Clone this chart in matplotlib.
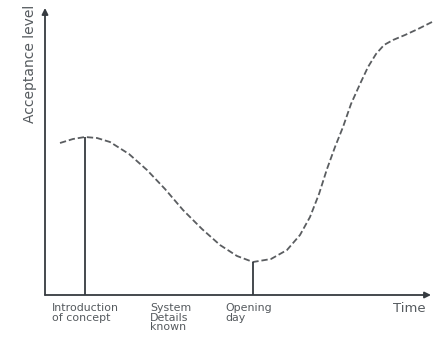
import matplotlib

matplotlib.use("Agg")
import matplotlib.pyplot as plt

# acceptance curve (time, acceptance level; arbitrary units)
time = [15, 28, 40, 52, 65, 84, 102, 120, 138, 157, 175, 192, 208, 226, 242,
        255, 265, 274, 282, 290, 298, 306, 315, 323, 331, 339, 348, 360, 373, 387]
accept = [152, 156, 158, 157, 153, 141, 125, 106, 85, 66, 50, 39, 33, 36, 45,
          60, 78, 101, 126, 148, 168, 191, 211, 228, 241, 250, 255, 260, 266, 273]

markers_t = [40, 208]          # vertical guides: introduction, opening day
markers_a = [158, 33]
tick_pos = [7, 105, 180]
tick_text = ["Introduction\nof concept", "System\nDetails\nknown", "Opening\nday"]

AXIS = "#363b40"
TEXT = "#555a5e"

fig = plt.figure(figsize=(4.34, 3.39), dpi=100)
ax = fig.add_axes([45 / 434, 44 / 339, 389 / 434, 287 / 339])
ax.set_xlim(0, 389)
ax.set_ylim(0, 287)
ax.axis("off")

ax.plot(time, accept, color="#5a5d60", lw=1.3, ls=(0, (3.5, 1.6)))
ax.vlines(markers_t, 0, markers_a, color=AXIS, lw=1.3)

arrow = dict(arrowstyle="-|>", color=AXIS, lw=1.3, mutation_scale=9,
             shrinkA=0, shrinkB=0)
ax.annotate("", xy=(386, 0), xytext=(0, 0), arrowprops=arrow)
ax.annotate("", xy=(0, 287), xytext=(0, 0), arrowprops=arrow)

for x, s in zip(tick_pos, tick_text):
    ax.text(x, -8, s, ha="left", va="top", fontsize=7.9, color=TEXT,
            linespacing=0.95)
ax.text(348, -13, "Time", ha="left", va="center", fontsize=9.5, color=TEXT)
ax.text(-15, 290, "Acceptance level", rotation=90, ha="center", va="top",
        fontsize=10, color=TEXT)

fig.savefig("out.png", dpi=100)
